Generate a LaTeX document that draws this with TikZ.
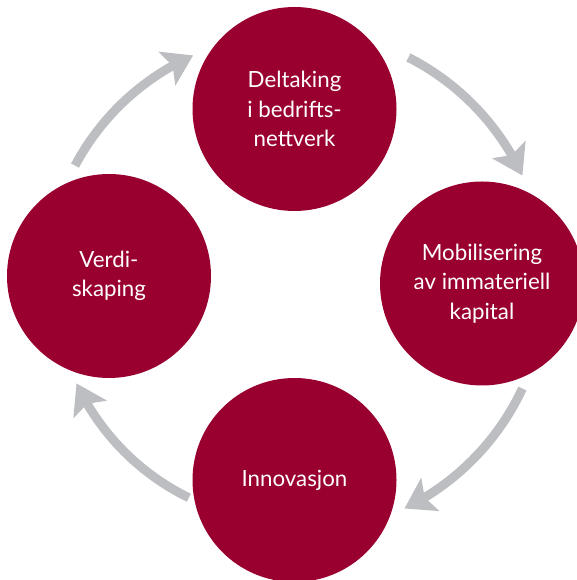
\documentclass[tikz,border=0pt]{standalone}
\usepackage{fontspec}
\setmainfont{Lato}
\usetikzlibrary{arrows.meta,bending,calc}
\definecolor{wine}{HTML}{990030}
\definecolor{arrgray}{HTML}{BCBEC1}
\tikzset{
  circ/.style={circle, fill=wine, draw=none, minimum size=204pt, inner sep=0pt,
    text=white, align=center, font=\fontsize{22.3}{29.5}\selectfont},
  cyc/.style={draw=arrgray, line width=9pt,
    -{Stealth[length=29pt,width=37pt,inset=6pt,flex]}}
}
\begin{document}
\begin{tikzpicture}[x=1pt,y=1pt]
\useasboundingbox (0,0) rectangle (577,580);
\clip (0,0) rectangle (577,580);
\coordinate (c) at (294,298);
\node[circ] (top) at (294.5,471) {Deltaking\\i bedrifts-\\nettverk};
\node[circ] (right) at (482,296.5) {Mobilisering\\av immateriell\\kapital};
\node[circ] (bottom) at (294.5,100) {Innovasjon};
\node[circ] (left) at (109,304) {Verdi-\\skaping};
\draw[cyc] ($(c)+(152:248)$) arc[start angle=152, end angle=114, radius=248];
\draw[cyc] ($(c)+(63:252)$) arc[start angle=63, end angle=25, radius=252];
\draw[cyc] ($(c)+(-25:252)$) arc[start angle=-25, end angle=-64, radius=252];
\draw[cyc] ($(c)+(-116:240)$) arc[start angle=-116, end angle=-155, radius=240];
\end{tikzpicture}
\end{document}
